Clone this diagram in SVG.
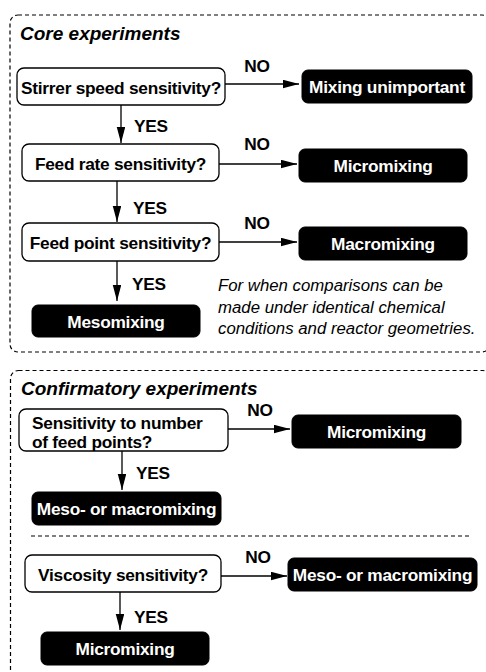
<svg xmlns="http://www.w3.org/2000/svg" width="486" height="672" viewBox="0 0 486 672">
<style>
.frame{fill:none;stroke:#000;stroke-width:1.2;stroke-dasharray:4 3}
.q{fill:#fff;stroke:#000;stroke-width:1.3}
.r{fill:#000;stroke:#000;stroke-width:1}
.t{font-family:"Liberation Sans",Arial,sans-serif;font-weight:bold;font-size:17.3px;letter-spacing:-0.25px;fill:#000}
.w{font-family:"Liberation Sans",Arial,sans-serif;font-weight:bold;font-size:17.3px;letter-spacing:-0.25px;fill:#fff;text-anchor:middle}
.c{text-anchor:middle}
.h{font-family:"Liberation Sans",Arial,sans-serif;font-weight:bold;font-style:italic;font-size:19px;fill:#000}
.n{font-family:"Liberation Sans",Arial,sans-serif;font-style:italic;font-size:16.8px;fill:#000}
.a{fill:none;stroke:#000;stroke-width:1.3;marker-end:url(#ah)}
</style>
<defs>
<marker id="ah" markerUnits="userSpaceOnUse" markerWidth="17" markerHeight="9" refX="16" refY="4.25" orient="auto">
<path d="M0,0 L16,4.25 L0,8.5 z" fill="#000"/>
</marker>
</defs>
<rect width="486" height="672" fill="#fff"/>
<g id="frames">
<rect class="frame" x="10" y="15" width="480" height="337" rx="8"/>
<rect class="frame" x="10.5" y="370.5" width="480" height="330" rx="8"/>
<line class="frame" x1="31" y1="536" x2="472" y2="536"/>
</g>
<g id="titles">
<text class="h" x="20" y="40">Core experiments</text>
<text class="h" x="21" y="395">Confirmatory experiments</text>
<text class="n" x="218" y="291">For when comparisons can be</text>
<text class="n" x="218" y="312.5">made under identical chemical</text>
<text class="n" x="218" y="334">conditions and reactor geometries.</text>
</g>
<g id="connectors">
<line class="a" x1="225" y1="84" x2="299" y2="84"/>
<text class="t c" x="257" y="72">NO</text>
<line class="a" x1="121" y1="105" x2="121" y2="143"/>
<text class="t" x="134" y="131.5">YES</text>
<line class="a" x1="219" y1="164" x2="297" y2="164"/>
<text class="t c" x="257" y="150">NO</text>
<line class="a" x1="117" y1="181" x2="117" y2="222"/>
<text class="t" x="133" y="213.5">YES</text>
<line class="a" x1="219" y1="242" x2="297" y2="242"/>
<text class="t c" x="257" y="229">NO</text>
<line class="a" x1="117" y1="261" x2="117" y2="301"/>
<text class="t" x="132" y="289.5">YES</text>
<line class="a" x1="228" y1="429" x2="290" y2="429"/>
<text class="t c" x="260" y="416">NO</text>
<line class="a" x1="122" y1="451" x2="122" y2="490"/>
<text class="t" x="136" y="478.5">YES</text>
<line class="a" x1="221" y1="576" x2="287" y2="576"/>
<text class="t c" x="258" y="563">NO</text>
<line class="a" x1="120" y1="592" x2="120" y2="630"/>
<text class="t" x="134" y="622.5">YES</text>
</g>
<g id="q1">
<rect class="q" x="17" y="68" width="208" height="37" rx="7"/>
<text class="t c" x="121" y="93.5">Stirrer speed sensitivity?</text>
</g>
<g id="r1">
<rect class="r" x="302" y="70" width="170" height="33" rx="6"/>
<text class="w" x="387" y="93">Mixing unimportant</text>
</g>
<g id="q2">
<rect class="q" x="22" y="144" width="197" height="37" rx="7"/>
<text class="t c" x="120.5" y="169.5">Feed rate sensitivity?</text>
</g>
<g id="r2">
<rect class="r" x="299" y="149" width="168" height="33" rx="6"/>
<text class="w" x="383" y="172">Micromixing</text>
</g>
<g id="q3">
<rect class="q" x="22" y="223" width="197" height="38" rx="7"/>
<text class="t c" x="120.5" y="248.5">Feed point sensitivity?</text>
</g>
<g id="r3">
<rect class="r" x="299" y="227" width="168" height="33" rx="6"/>
<text class="w" x="383" y="250">Macromixing</text>
</g>
<g id="r4">
<rect class="r" x="32" y="305" width="168" height="32" rx="6"/>
<text class="w" x="116" y="327.5">Mesomixing</text>
</g>
<g id="q5">
<rect class="q" x="19" y="409" width="209" height="42" rx="7"/>
<text class="t" x="32" y="428.5">Sensitivity to number</text>
<text class="t" x="32" y="447.5">of feed points?</text>
</g>
<g id="r5">
<rect class="r" x="292" y="415" width="169" height="33" rx="6"/>
<text class="w" x="376.5" y="438">Micromixing</text>
</g>
<g id="r6">
<rect class="r" x="32" y="492" width="189" height="33" rx="6"/>
<text class="w" x="126.5" y="515">Meso- or macromixing</text>
</g>
<g id="q7">
<rect class="q" x="25" y="555" width="196" height="37" rx="7"/>
<text class="t c" x="123" y="580.5">Viscosity sensitivity?</text>
</g>
<g id="r7">
<rect class="r" x="288" y="558" width="189" height="33" rx="6"/>
<text class="w" x="382.5" y="581">Meso- or macromixing</text>
</g>
<g id="r8">
<rect class="r" x="41" y="632" width="168" height="33" rx="6"/>
<text class="w" x="125" y="655">Micromixing</text>
</g>
</svg>
